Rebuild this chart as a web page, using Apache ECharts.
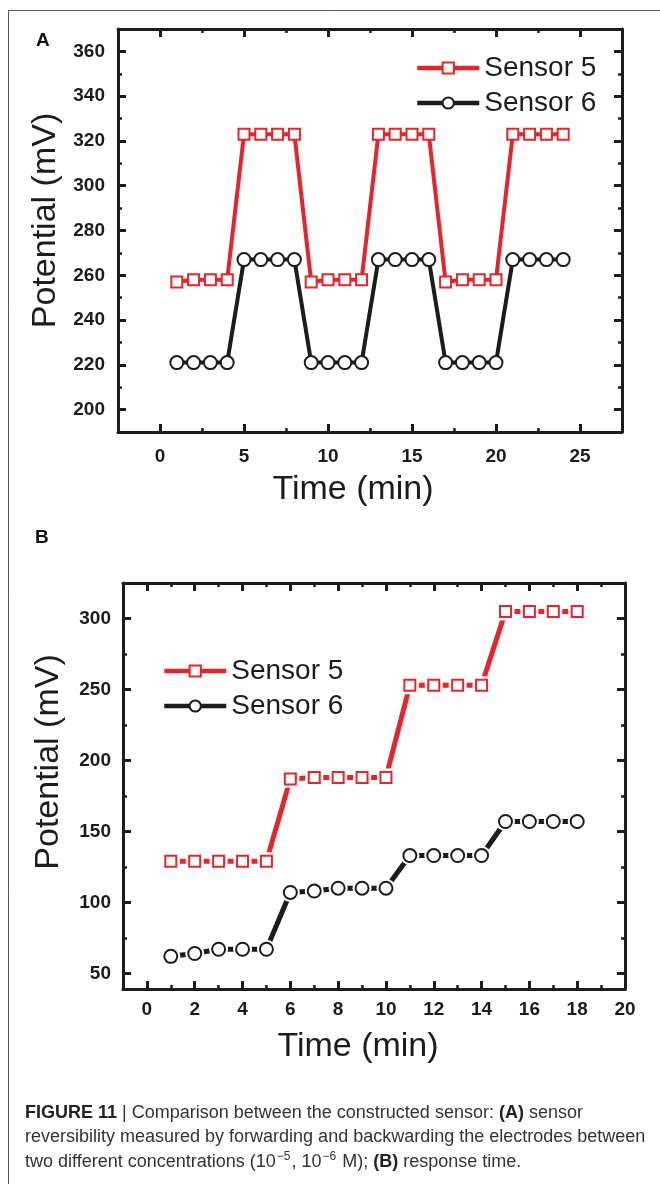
<!DOCTYPE html>
<html>
<head>
<meta charset="utf-8">
<style>
  html, body { margin: 0; padding: 0; background: #fff; }
  #chart { width: 660px; height: 1184px; }
</style>
<script src="https://cdn.jsdelivr.net/npm/echarts@6/dist/echarts.min.js"></script>
</head>
<body>
<div id="chart"></div>
<script>
// panel A: reversibility
var timeA = [1, 2, 3, 4, 5, 6, 7, 8, 9, 10, 11, 12, 13, 14, 15, 16, 17, 18, 19, 20, 21, 22, 23, 24];
var sensor5A = [257, 258, 258, 258, 323, 323, 323, 323, 257, 258, 258, 258, 323, 323, 323, 323, 257, 258, 258, 258, 323, 323, 323, 323];
var sensor6A = [221, 221, 221, 221, 267, 267, 267, 267, 221, 221, 221, 221, 267, 267, 267, 267, 221, 221, 221, 221, 267, 267, 267, 267];
var xTicksA = [0, 5, 10, 15, 20, 25];
var xMinorA = [2.5, 7.5, 12.5, 17.5, 22.5];
var yTicksA = [200, 220, 240, 260, 280, 300, 320, 340, 360];
var yMinorA = [210, 230, 250, 270, 290, 310, 330, 350];

// panel B: response time
var timeB = [1, 2, 3, 4, 5, 6, 7, 8, 9, 10, 11, 12, 13, 14, 15, 16, 17, 18];
var sensor5B = [129, 129, 129, 129, 129, 187, 188, 188, 188, 188, 253, 253, 253, 253, 305, 305, 305, 305];
var sensor6B = [62, 64, 67, 67, 67, 107, 108, 110, 110, 110, 133, 133, 133, 133, 157, 157, 157, 157];
var xTicksB = [0, 2, 4, 6, 8, 10, 12, 14, 16, 18, 20];
var xMinorB = [1, 3, 5, 7, 9, 11, 13, 15, 17, 19];
var yTicksB = [50, 100, 150, 200, 250, 300];
var yMinorB = [75, 125, 175, 225, 275];

var RED = '#e8232a';
var BLACK = '#1c1c1c';
var FONT = '"Liberation Sans", Arial, sans-serif';

function pairs(xs, ys) {
    return xs.map(function (x, i) { return [x, ys[i]]; });
}

// one axis of the box; major axes carry line + labels, minor ones only short ticks
function axis(gridIndex, position, min, max, ticks, major, label, extra) {
    var a = {
        type: 'value',
        gridIndex: gridIndex,
        position: position,
        min: min,
        max: max,
        splitLine: { show: false },
        axisLine: { show: major, onZero: false, lineStyle: { color: BLACK, width: 3 } },
        axisTick: {
            show: true,
            inside: true,
            customValues: ticks,
            length: major ? 8 : 4,
            lineStyle: { color: BLACK, width: major ? 3 : 2.5 }
        },
        axisLabel: { show: false }
    };
    if (label) {
        a.axisLabel = {
            show: true,
            customValues: ticks,
            color: BLACK,
            fontFamily: FONT,
            fontWeight: 'bold',
            fontSize: 19,
            margin: label
        };
    }
    return Object.assign(a, extra || {});
}

var nameStyle = { color: BLACK, fontFamily: FONT, fontSize: 34 };

var gridA = { left: 118, top: 29, width: 504, height: 403 };
var gridB = { left: 123, top: 583, width: 502, height: 406 };

function legendAt(left, top) {
    return {
        data: ['Sensor 5', 'Sensor 6'],
        orient: 'vertical',
        left: left,
        top: top,
        itemWidth: 62,
        itemHeight: 14,
        itemGap: 7,
        lineStyle: { width: 4.5 },
        textStyle: { color: BLACK, fontFamily: FONT, fontSize: 28 }
    };
}

var capBase = { fontFamily: FONT, fontSize: 18, lineHeight: 24, fill: '#333' };
var capBold = { fontFamily: FONT, fontSize: 18, lineHeight: 24, fontWeight: 'bold', fill: '#222' };
var capSup = { fontFamily: FONT, fontSize: 12, lineHeight: 24, verticalAlign: 'top', fill: '#333', padding: [0, 1, 0, 1] };

var chart = echarts.init(document.getElementById('chart'));
chart.setOption({
    animation: false,
    backgroundColor: '#fff',
    grid: [gridA, gridA, gridB, gridB],
    xAxis: [
        axis(0, 'bottom', -2.5, 27.5, xTicksA, true, 15, {
            name: 'Time (min)', nameLocation: 'middle', nameGap: 41,
            nameTextStyle: Object.assign({ padding: [0, 34, 0, 0] }, nameStyle)
        }),
        axis(0, 'top', -2.5, 27.5, xTicksA, true, 0),
        axis(1, 'bottom', -2.5, 27.5, xMinorA, false, 0),
        axis(1, 'top', -2.5, 27.5, xMinorA, false, 0),
        axis(2, 'bottom', -1, 20, xTicksB, true, 11, {
            name: 'Time (min)', nameLocation: 'middle', nameGap: 41,
            nameTextStyle: Object.assign({ padding: [0, 32, 0, 0] }, nameStyle)
        }),
        axis(2, 'top', -1, 20, xTicksB, true, 0),
        axis(3, 'bottom', -1, 20, xMinorB, false, 0),
        axis(3, 'top', -1, 20, xMinorB, false, 0)
    ],
    yAxis: [
        axis(0, 'left', 190, 370, yTicksA, true, 13, {
            name: 'Potential (mV)', nameLocation: 'middle', nameGap: 50,
            nameTextStyle: Object.assign({ padding: [0, 0, 0, 20] }, nameStyle)
        }),
        axis(0, 'right', 190, 370, yTicksA, true, 0),
        axis(1, 'left', 190, 370, yMinorA, false, 0),
        axis(1, 'right', 190, 370, yMinorA, false, 0),
        axis(2, 'left', 39, 325, yTicksB, true, 12, {
            name: 'Potential (mV)', nameLocation: 'middle', nameGap: 57,
            nameTextStyle: Object.assign({ padding: [0, 0, 0, 48] }, nameStyle)
        }),
        axis(2, 'right', 39, 325, yTicksB, true, 0),
        axis(3, 'left', 39, 325, yMinorB, false, 0),
        axis(3, 'right', 39, 325, yMinorB, false, 0)
    ],
    legend: [legendAt(410, 49), legendAt(157, 652)],
    series: [
        {
            name: 'Sensor 5', type: 'line', xAxisIndex: 0, yAxisIndex: 0,
            data: pairs(timeA, sensor5A),
            symbol: 'emptyRect', symbolSize: 11, showAllSymbol: true,
            itemStyle: { color: RED, borderWidth: 1.5 },
            lineStyle: { color: RED, width: 4 },
            z: 3
        },
        {
            name: 'Sensor 6', type: 'line', xAxisIndex: 0, yAxisIndex: 0,
            data: pairs(timeA, sensor6A),
            symbol: 'emptyCircle', symbolSize: 13, showAllSymbol: true,
            itemStyle: { color: BLACK, borderWidth: 1.5 },
            lineStyle: { color: BLACK, width: 4 },
            z: 2
        },
        // panel B: line, white mask round each point (gap to symbol), then the symbols
        {
            name: 'Sensor 5', type: 'line', xAxisIndex: 4, yAxisIndex: 4,
            data: pairs(timeB, sensor5B), showSymbol: false,
            itemStyle: { color: RED }, lineStyle: { color: RED, width: 5 }, z: 2
        },
        {
            name: 'Sensor 6', type: 'line', xAxisIndex: 4, yAxisIndex: 4,
            data: pairs(timeB, sensor6B), showSymbol: false,
            itemStyle: { color: BLACK }, lineStyle: { color: BLACK, width: 5 }, z: 2
        },
        {
            name: 'gap5', type: 'line', xAxisIndex: 4, yAxisIndex: 4, silent: true,
            data: pairs(timeB, sensor5B), symbol: 'rect', symbolSize: 18, showAllSymbol: true,
            itemStyle: { color: '#fff' }, lineStyle: { opacity: 0 }, z: 3
        },
        {
            name: 'gap6', type: 'line', xAxisIndex: 4, yAxisIndex: 4, silent: true,
            data: pairs(timeB, sensor6B), symbol: 'circle', symbolSize: 19, showAllSymbol: true,
            itemStyle: { color: '#fff' }, lineStyle: { opacity: 0 }, z: 3
        },
        {
            name: 'mark5', type: 'line', xAxisIndex: 4, yAxisIndex: 4,
            data: pairs(timeB, sensor5B), symbol: 'emptyRect', symbolSize: 11, showAllSymbol: true,
            itemStyle: { color: RED, borderWidth: 1.5 }, lineStyle: { opacity: 0 }, z: 4
        },
        {
            name: 'mark6', type: 'line', xAxisIndex: 4, yAxisIndex: 4,
            data: pairs(timeB, sensor6B), symbol: 'emptyCircle', symbolSize: 13, showAllSymbol: true,
            itemStyle: { color: BLACK, borderWidth: 1.5 }, lineStyle: { opacity: 0 }, z: 4
        }
    ],
    graphic: [
        {
            type: 'rect', silent: true,
            shape: { x: 8.5, y: 10.5, width: 700, height: 1200 },
            style: { fill: 'none', stroke: '#555', lineWidth: 1 }
        },
        {
            type: 'text', left: 36, top: 31,
            style: { text: 'A', font: 'bold 19px ' + FONT, fill: '#111' }
        },
        {
            type: 'text', left: 35, top: 528,
            style: { text: 'B', font: 'bold 19px ' + FONT, fill: '#111' }
        },
        {
            type: 'text', x: 25, y: 1113.5,
            style: Object.assign({
                text: '{b|FIGURE 11} | Comparison between the constructed sensor: {b|(A)} sensor',
                verticalAlign: 'middle',
                rich: { b: capBold }
            }, capBase)
        },
        {
            type: 'text', x: 25, y: 1137.5,
            style: Object.assign({
                text: 'reversibility measured by forwarding and backwarding the electrodes between',
                verticalAlign: 'middle'
            }, capBase)
        },
        {
            type: 'text', x: 25, y: 1162.5,
            style: Object.assign({
                text: 'two different concentrations (10{s|\u22125}, 10{s|\u22126} M); {b|(B)} response time.',
                verticalAlign: 'middle',
                rich: { b: capBold, s: capSup }
            }, capBase)
        }
    ]
});
</script>
</body>
</html>
